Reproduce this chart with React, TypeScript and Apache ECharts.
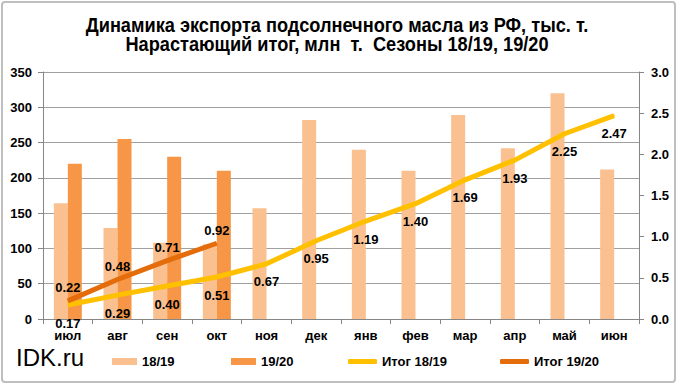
import React, { useEffect, useRef } from "react";
import * as echarts from "echarts";

const months = ["июл", "авг", "сен", "окт", "ноя", "дек", "янв", "фев", "мар", "апр", "май", "июн"];
const export1819 = [164, 129, 108, 106, 157, 282, 240, 210, 289, 242, 320, 212];
const export1920: (number | string)[] = [220, 255, 230, 210, "-", "-", "-", "-", "-", "-", "-", "-"];
const total1819 = [0.17, 0.29, 0.4, 0.51, 0.67, 0.95, 1.19, 1.4, 1.69, 1.93, 2.25, 2.47];
const total1920: (number | string)[] = [0.22, 0.48, 0.71, 0.92, "-", "-", "-", "-", "-", "-", "-", "-"];

const titleLine1 = "Динамика экспорта подсолнечного масла из РФ, тыс. т.";
const titleLine2 = "Нарастающий итог, млн  т.  Сезоны 18/19, 19/20";

export default function App() {
  const ref = useRef<HTMLDivElement>(null);
  useEffect(() => {
    if (!ref.current) return;
    const chart = echarts.init(ref.current, null, { renderer: "svg" });
    const font = "'Liberation Sans', Arial, sans-serif";
    const labelStyle = { fontFamily: font, fontSize: 13, fontWeight: "bold" as const, color: "#000" };
    const legendBase = {
      top: 350,
      textStyle: { ...labelStyle },
      itemGap: 0,
      selectedMode: false,
    };
    const titleStyle = (text: string) => ({
      text,
      fontFamily: font,
      fontSize: 20,
      fontWeight: "bold",
      fill: "#000",
      align: "center",
      verticalAlign: "middle",
    });
    chart.setOption({
      animation: false,
      backgroundColor: "#fff",
      graphic: [
        {
          type: "rect",
          shape: { x: 2, y: 2, width: 673, height: 380, r: 3 },
          style: { fill: "none", stroke: "#bfbfbf", lineWidth: 2 },
          silent: true,
          z: -10,
        },
        { type: "text", x: 337, y: 25, scaleX: 0.91, style: titleStyle(titleLine1) },
        { type: "text", x: 337, y: 44, scaleX: 0.91, style: titleStyle(titleLine2) },
        {
          type: "text",
          x: 16,
          y: 357,
          style: {
            text: "IDK.ru",
            fontFamily: font,
            fontSize: 24,
            fill: "#000",
            verticalAlign: "middle",
          },
        },
      ],
      legend: [
        { ...legendBase, left: 107, data: ["18/19"], itemWidth: 25, itemHeight: 7, icon: "rect" },
        { ...legendBase, left: 226, data: ["19/20"], itemWidth: 25, itemHeight: 7, icon: "rect" },
        { ...legendBase, left: 343, data: ["Итог 18/19"], itemWidth: 29, itemHeight: 5, icon: "roundRect" },
        { ...legendBase, left: 495, data: ["Итог 19/20"], itemWidth: 29, itemHeight: 5, icon: "roundRect" },
      ],
      grid: { left: 43, right: 43, top: 72, bottom: 70 },
      xAxis: {
        type: "category",
        data: months,
        boundaryGap: true,
        axisLine: { lineStyle: { color: "#868686", width: 1 } },
        axisTick: { show: true, length: 5, lineStyle: { color: "#868686" } },
        axisLabel: { ...labelStyle, margin: 10 },
      },
      yAxis: [
        {
          type: "value",
          min: 0,
          max: 350,
          interval: 50,
          axisLine: { show: true, lineStyle: { color: "#868686" } },
          axisTick: { show: true, length: 5, lineStyle: { color: "#868686" } },
          splitLine: { lineStyle: { color: "#a0a0a0", width: 1 } },
          axisLabel: { ...labelStyle, margin: 11 },
        },
        {
          type: "value",
          min: 0,
          max: 3,
          interval: 0.5,
          position: "right",
          axisLine: { show: true, lineStyle: { color: "#868686" } },
          axisTick: { show: true, length: 5, lineStyle: { color: "#868686" } },
          splitLine: { show: false },
          axisLabel: { ...labelStyle, margin: 12, formatter: (v: number) => v.toFixed(1) },
        },
      ],
      series: [
        {
          name: "18/19",
          type: "bar",
          data: export1819,
          barWidth: 14,
          barGap: "0%",
          itemStyle: { color: "#fac090" },
        },
        {
          name: "19/20",
          type: "bar",
          data: export1920,
          barWidth: 14,
          barGap: "0%",
          itemStyle: { color: "#f79646" },
        },
        {
          name: "Итог 18/19",
          type: "line",
          yAxisIndex: 1,
          data: total1819,
          symbol: "circle",
          symbolSize: 1,
          showSymbol: true,
          lineStyle: { color: "#ffc000", width: 5 },
          itemStyle: { color: "#ffc000" },
          z: 3,
          label: {
            show: true,
            position: "bottom",
            distance: 11,
            ...labelStyle,
            formatter: (p: any) => Number(p.value).toFixed(2),
          },
        },
        {
          name: "Итог 19/20",
          type: "line",
          yAxisIndex: 1,
          data: total1920,
          symbol: "circle",
          symbolSize: 1,
          showSymbol: true,
          lineStyle: { color: "#e46c0a", width: 5 },
          itemStyle: { color: "#e46c0a" },
          z: 4,
          label: {
            show: true,
            position: "top",
            distance: 6,
            ...labelStyle,
            formatter: (p: any) => Number(p.value).toFixed(2),
          },
        },
      ],
    });
    return () => chart.dispose();
  }, []);
  return <div ref={ref} style={{ width: 682, height: 389, position: "absolute", left: 0, top: 0 }} />;
}
